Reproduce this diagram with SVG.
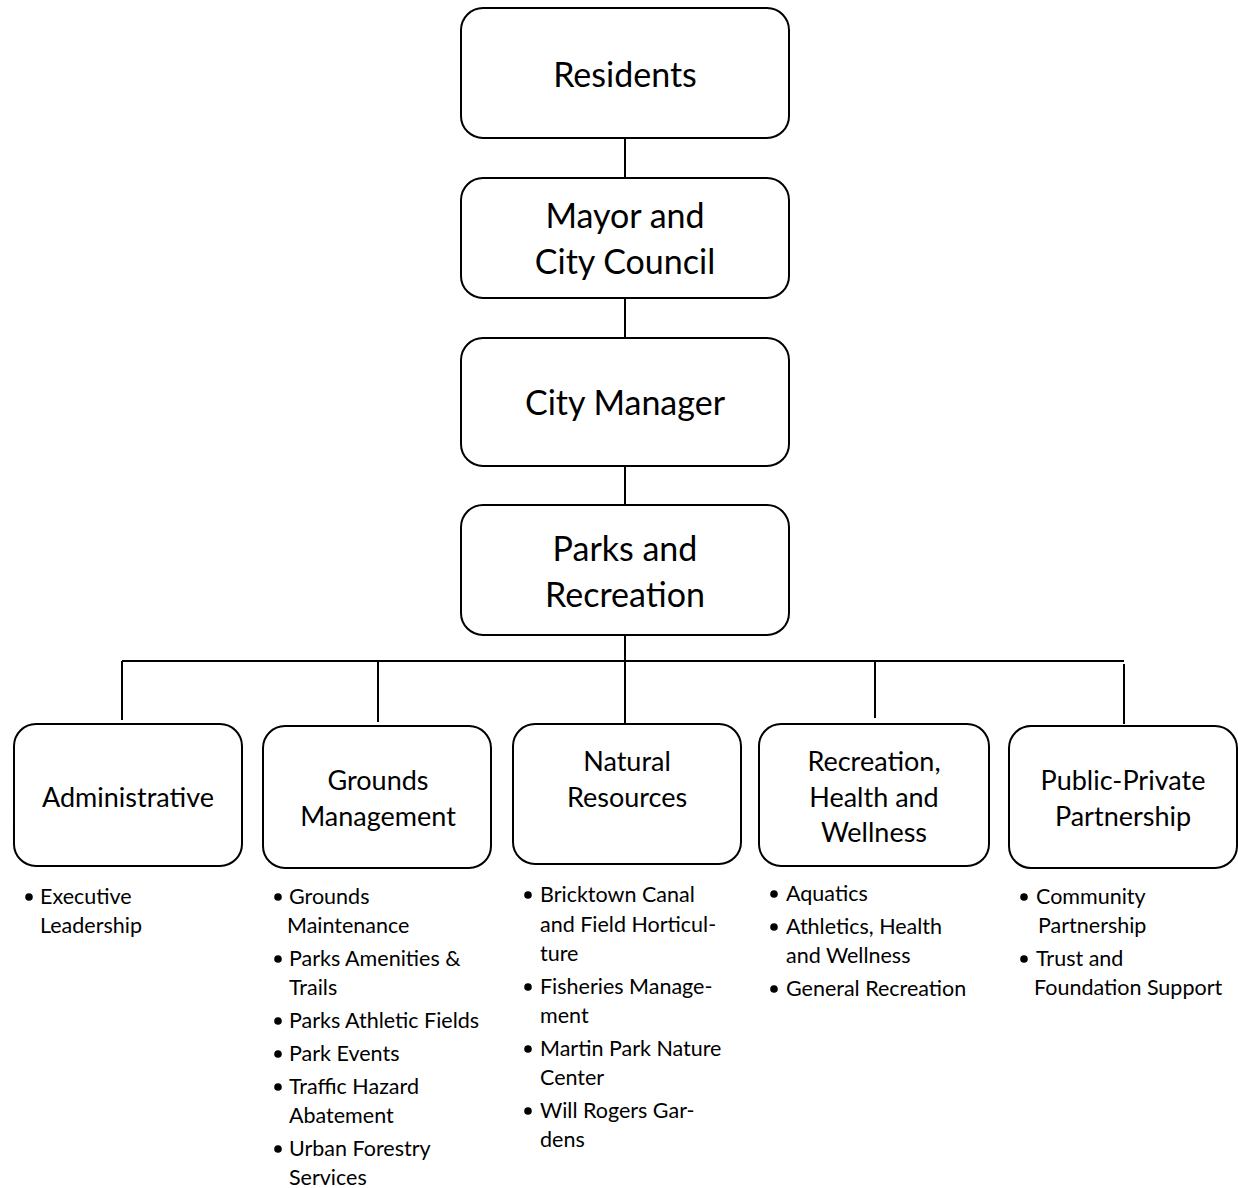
<svg xmlns="http://www.w3.org/2000/svg" width="1238" height="1188" viewBox="0 0 1238 1188">
<style>
.box{fill:#fff;stroke:#000;stroke-width:2}
.t1{font-family:Lato,"Open Sans",sans-serif;font-size:34px;text-anchor:middle;fill:#000}
.t2{font-family:Lato,"Open Sans",sans-serif;font-size:27px;text-anchor:middle;fill:#000}
.li{font-family:Lato,"Open Sans",sans-serif;font-size:21.5px;fill:#000}
.c{stroke:#000;stroke-width:2;fill:none}
.b{fill:#000}
</style>
<rect width="1238" height="1188" fill="#fff"/>
<g id="connectors">
<path class="c" d="M625 138V178M625 298V338M625 466V505M625 635V661"/>
<path class="c" d="M122 661H1124"/>
<path class="c" d="M122 661V720M378 661V722M625 661V724M875 661V718M1124 664V724"/>
</g>
<g id="residents"><rect class="box" x="461" y="8" width="328" height="130" rx="22"/><text class="t1" x="625" y="87">Residents</text></g>
<g id="mayor"><rect class="box" x="461" y="178" width="328" height="120" rx="22"/><text class="t1" x="625" y="228">Mayor and</text><text class="t1" x="625" y="274">City Council</text></g>
<g id="manager"><rect class="box" x="461" y="338" width="328" height="128" rx="22"/><text class="t1" x="625" y="415">City Manager</text></g>
<g id="parks"><rect class="box" x="461" y="505" width="328" height="130" rx="22"/><text class="t1" x="625" y="561">Parks and</text><text class="t1" x="625" y="607">Recreation</text></g>
<g id="administrative"><rect class="box" x="14" y="724" width="228" height="142" rx="22"/><text class="t2" x="128" y="807">Administrative</text>
<circle class="b" cx="29" cy="897" r="3.8"/><text class="li" x="40" y="904">Executive</text><text class="li" x="40" y="933">Leadership</text></g>
<g id="grounds"><rect class="box" x="263" y="726" width="228" height="142" rx="22"/><text class="t2" x="378" y="790">Grounds</text><text class="t2" x="378" y="826">Management</text>
<circle class="b" cx="278" cy="897" r="3.8"/><text class="li" x="289" y="904">Grounds</text><text class="li" x="287" y="933">Maintenance</text>
<circle class="b" cx="278" cy="959" r="3.8"/><text class="li" x="289" y="966">Parks Amenities &amp;</text><text class="li" x="289" y="995">Trails</text>
<circle class="b" cx="278" cy="1021" r="3.8"/><text class="li" x="289" y="1028">Parks Athletic Fields</text>
<circle class="b" cx="278" cy="1054" r="3.8"/><text class="li" x="289" y="1061">Park Events</text>
<circle class="b" cx="278" cy="1087" r="3.8"/><text class="li" x="289" y="1094">Traffic Hazard</text><text class="li" x="289" y="1123">Abatement</text>
<circle class="b" cx="278" cy="1149" r="3.8"/><text class="li" x="289" y="1156">Urban Forestry</text><text class="li" x="289" y="1185">Services</text></g>
<g id="natural"><rect class="box" x="513" y="724" width="228" height="140" rx="22"/><text class="t2" x="627" y="771">Natural</text><text class="t2" x="627" y="807">Resources</text>
<circle class="b" cx="528" cy="895" r="3.8"/><text class="li" x="540" y="902">Bricktown Canal</text><text class="li" x="540" y="932">and Field Horticul-</text><text class="li" x="540" y="961">ture</text>
<circle class="b" cx="528" cy="987" r="3.8"/><text class="li" x="540" y="994">Fisheries Manage-</text><text class="li" x="540" y="1023">ment</text>
<circle class="b" cx="528" cy="1049" r="3.8"/><text class="li" x="540" y="1056">Martin Park Nature</text><text class="li" x="540" y="1085">Center</text>
<circle class="b" cx="528" cy="1111" r="3.8"/><text class="li" x="540" y="1118">Will Rogers Gar-</text><text class="li" x="540" y="1147">dens</text></g>
<g id="recreation"><rect class="box" x="759" y="724" width="230" height="142" rx="22"/><text class="t2" x="874" y="771">Recreation,</text><text class="t2" x="874" y="807">Health and</text><text class="t2" x="874" y="842">Wellness</text>
<circle class="b" cx="774" cy="894" r="3.8"/><text class="li" x="786" y="901">Aquatics</text>
<circle class="b" cx="774" cy="927" r="3.8"/><text class="li" x="786" y="934">Athletics, Health</text><text class="li" x="786" y="963">and Wellness</text>
<circle class="b" cx="774" cy="989" r="3.8"/><text class="li" x="786" y="996">General Recreation</text></g>
<g id="ppp"><rect class="box" x="1009" y="726" width="228" height="142" rx="22"/><text class="t2" x="1123" y="790">Public-Private</text><text class="t2" x="1123" y="826">Partnership</text>
<circle class="b" cx="1024" cy="897" r="3.8"/><text class="li" x="1036" y="904">Community</text><text class="li" x="1038" y="933">Partnership</text>
<circle class="b" cx="1024" cy="959" r="3.8"/><text class="li" x="1036" y="966">Trust and</text><text class="li" x="1034" y="995">Foundation Support</text></g>
</svg>
